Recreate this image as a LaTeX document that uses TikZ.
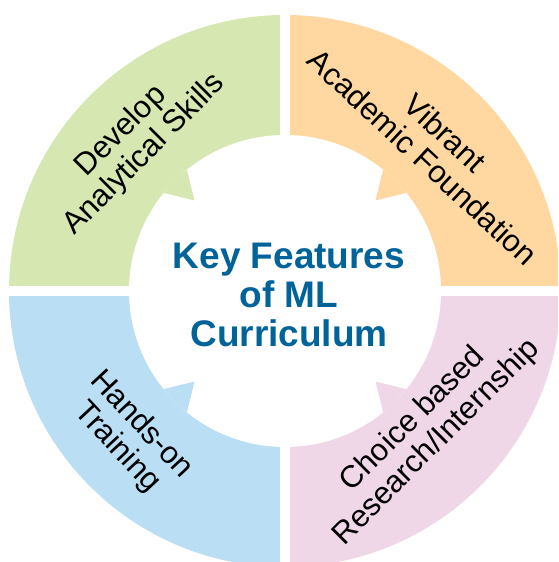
\documentclass[tikz,border=0pt]{standalone}
\usepackage{fontspec}
\setmainfont{Liberation Sans}
\usetikzlibrary{positioning,calc}
\definecolor{skillgreen}{RGB}{214,231,178}
\definecolor{foundorange}{RGB}{254,216,160}
\definecolor{handsblue}{RGB}{186,222,244}
\definecolor{choicepink}{RGB}{240,215,232}
\definecolor{titleblue}{RGB}{0,99,153}

\tikzset{seglabel/.style={align=center, inner sep=0pt, font=\fontsize{31}{33}\selectfont}}

\begin{document}
\begin{tikzpicture}[x=1pt,y=1pt]
\useasboundingbox (0,0) rectangle (558,562);
\clip (0,0) rectangle (558,562);
\coordinate (c) at (285,271);

% ring quarters
\foreach \a/\col in {0/foundorange,90/skillgreen,180/handsblue,270/choicepink}{
	\fill[\col] (c) -- ++(\a:276) arc[start angle=\a, end angle=\a+90, radius=276] -- cycle;
}
\fill[white] (c) circle[radius=156];

% arrow tips on the inner edge
\foreach \m/\col in {45/foundorange,135/skillgreen,225/handsblue,315/choicepink}{
	\fill[\col] ($(c)+(\m:128)$) -- ($(c)+(\m-6:156)$) arc[start angle=\m-6, end angle=\m+6, radius=156] -- cycle;
}

% gaps
\fill[white] (280,0) rectangle (290,562);
\fill[white] (0,266) rectangle (558,276);

\node[seglabel, rotate=45] (skills) at (133,419) {Develop\\Analytical Skills};
\node[seglabel, rotate=-43] (found) at (434,417) {Vibrant\\Academic Foundation};
\node[seglabel, rotate=-47] (hands) at (129,126) {Hands-on\\Training};
\node[seglabel, rotate=45] (choice) at (425,131) {Choice based\\Research/Internship};

\node[align=center, inner sep=0pt, text=titleblue, font=\fontsize{37}{39}\selectfont\bfseries] (title) at (289,267) {Key Features\\of ML\\Curriculum};
\end{tikzpicture}
\end{document}
